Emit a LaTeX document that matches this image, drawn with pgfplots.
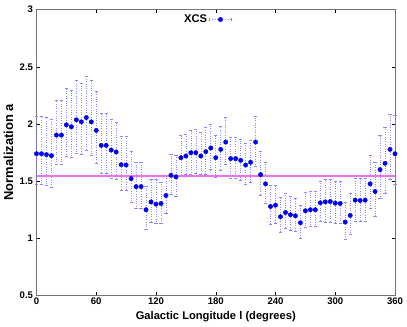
\documentclass[border=0pt]{standalone}
\usepackage{pgfplots}
\pgfplotsset{compat=1.18}
\usepackage{pgfplotstable}
\usepackage{fontspec}
\setmainfont{Liberation Sans}
\definecolor{errcol}{RGB}{135,135,255}
\definecolor{ptcol}{RGB}{0,0,240}
\definecolor{fitcol}{RGB}{240,110,240}
\pgfplotstableread{
x y ep em
0 1.738 0.332 0.270
5 1.738 0.332 0.270
10 1.730 0.325 0.271
15 1.721 0.323 0.274
20 1.901 0.308 0.259
25 1.901 0.308 0.259
30 1.991 0.320 0.276
35 1.974 0.317 0.265
40 2.035 0.343 0.291
45 2.017 0.338 0.287
50 2.055 0.364 0.288
55 2.017 0.361 0.296
60 1.942 0.340 0.285
65 1.811 0.282 0.247
70 1.811 0.282 0.247
75 1.770 0.271 0.250
80 1.753 0.264 0.242
85 1.642 0.253 0.227
90 1.639 0.256 0.224
95 1.520 0.236 0.204
100 1.450 0.218 0.192
105 1.450 0.213 0.192
110 1.247 0.210 0.172
115 1.316 0.195 0.177
120 1.296 0.215 0.163
125 1.302 0.189 0.169
130 1.372 0.180 0.152
135 1.549 0.189 0.169
140 1.535 0.186 0.169
145 1.703 0.195 0.163
150 1.718 0.195 0.163
155 1.747 0.201 0.192
160 1.747 0.206 0.183
165 1.718 0.206 0.163
170 1.756 0.215 0.201
175 1.788 0.212 0.189
180 1.703 0.198 0.168
185 1.776 0.207 0.183
190 1.840 0.215 0.198
195 1.695 0.186 0.175
200 1.695 0.186 0.175
205 1.680 0.189 0.174
210 1.639 0.189 0.171
215 1.663 0.197 0.175
220 1.840 0.230 0.212
225 1.555 0.204 0.180
230 1.474 0.189 0.166
235 1.276 0.183 0.157
240 1.287 0.172 0.154
245 1.186 0.168 0.140
250 1.223 0.166 0.142
255 1.203 0.163 0.134
260 1.194 0.152 0.133
265 1.133 0.151 0.131
270 1.238 0.166 0.140
275 1.247 0.160 0.143
280 1.247 0.160 0.143
285 1.308 0.189 0.160
290 1.316 0.195 0.174
295 1.319 0.192 0.177
300 1.305 0.189 0.178
305 1.302 0.192 0.175
310 1.139 0.175 0.151
315 1.197 0.192 0.166
320 1.331 0.195 0.186
325 1.328 0.198 0.183
330 1.331 0.195 0.186
335 1.474 0.250 0.210
340 1.407 0.256 0.216
345 1.599 0.305 0.253
350 1.654 0.314 0.265
355 1.776 0.311 0.265
360 1.738 0.341 0.270
}\xcs
\begin{document}
\begin{tikzpicture}
\begin{axis}[
  scale only axis,
  width=358.5bp, height=285.3bp,
  xmin=0, xmax=360, ymin=0.5, ymax=3,
  xtick={0,60,...,360},
  ytick={0.5,1,1.5,2,2.5,3},
  tick align=inside,
  major tick length=3.5bp,
  tick style={black, line width=0.5pt},
  axis line style={gray!90!black, line width=0.9pt},
  clip=false,
  tick label style={font=\bfseries\fontsize{9.6}{11}\selectfont},
  /pgf/number format/assume math mode=true,
  xticklabel style={yshift=1bp},
  xlabel={Galactic Longitude l (degrees)},
  ylabel={Normalization a},
  xlabel style={font=\bfseries\fontsize{11.2}{13}\selectfont, at={(axis description cs:0.5,-0.077)}, anchor=center},
  ylabel style={font=\bfseries\fontsize{13}{15}\selectfont, at={(axis description cs:-0.078,0.5)}, anchor=center},
  legend style={draw=none, fill=none, at={(axis description cs:0.548,0.993)}, anchor=north east,
    font=\bfseries\fontsize{11.2}{13}\selectfont, inner sep=1bp},
  legend plot pos=right,
  legend cell align=right,
]
\addplot[only marks, mark=*, mark size=2.2pt, color=ptcol,
  legend image code/.code={
    \draw[errcol, dotted, line width=0.6pt] (0bp,0bp) -- (22bp,0bp);
    \draw[errcol, line width=0.4pt] (0bp,-1.6bp) -- (0bp,1.6bp) (22bp,-1.6bp) -- (22bp,1.6bp);
    \fill[ptcol] (11bp,0bp) circle (2.2bp);},
  error bars/.cd, y dir=both, y explicit,
  error bar style={errcol, dotted, line width=0.6pt},
  error mark options={errcol, rotate=90, mark size=1.6pt, line width=0.4pt}]
  table[x=x, y=y, y error plus=ep, y error minus=em]{\xcs};
\addlegendentry{XCS}
\addplot[fitcol, line width=1.5pt, forget plot] coordinates {(0,1.542) (360,1.542)};
\end{axis}
\pgfresetboundingbox
\path[use as bounding box] (current axis.south west) ++(-36.5bp,-32bp) rectangle ++(407bp,327bp);
\end{tikzpicture}
\end{document}
